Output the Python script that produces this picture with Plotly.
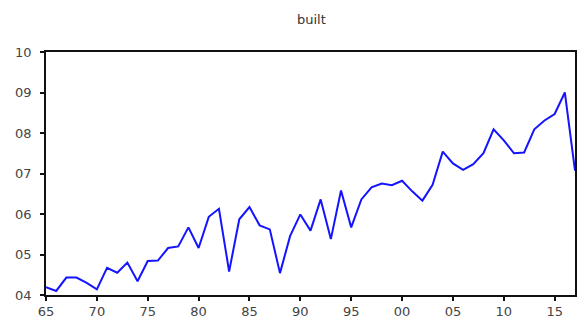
import plotly.graph_objects as go

years = list(range(1965, 2018))
built = [0.0419, 0.0410, 0.0443, 0.0443, 0.0430, 0.0414, 0.0467, 0.0455, 0.0480, 0.0434,
         0.0484, 0.0485, 0.0516, 0.0520, 0.0567, 0.0516, 0.0593, 0.0613, 0.0458, 0.0587,
         0.0617, 0.0572, 0.0562, 0.0454, 0.0546, 0.0599, 0.0559, 0.0636, 0.0538, 0.0658,
         0.0567, 0.0636, 0.0666, 0.0675, 0.0671, 0.0682, 0.0656, 0.0633, 0.0672, 0.0754,
         0.0725, 0.0709, 0.0723, 0.0750, 0.0809, 0.0782, 0.0750, 0.0752, 0.0809, 0.0831,
         0.0847, 0.0900, 0.0707]

x_tickvals = list(range(1965, 2016, 5))
x_ticktext = ["65", "70", "75", "80", "85", "90", "95", "00", "05", "10", "15"]
y_tickvals = [0.04, 0.05, 0.06, 0.07, 0.08, 0.09, 0.10]
y_ticktext = ["04", "05", "06", "07", "08", "09", "10"]

fig = go.Figure()
fig.add_trace(go.Scatter(x=years, y=built, mode="lines",
                         line=dict(color="#1414ff", width=2)))

fig.update_layout(
    width=582, height=324,
    margin=dict(l=46, r=5, t=52, b=26),
    paper_bgcolor="white", plot_bgcolor="white",
    showlegend=False,
    title=dict(text="built", x=0.535, xanchor="center", y=0.94, yanchor="middle",
               font=dict(family="DejaVu Sans", size=13, color="#333")),
    font=dict(family="DejaVu Sans", size=13, color="#444"),
)
fig.update_xaxes(range=[1965, 2017], tickvals=x_tickvals, ticktext=x_ticktext,
                 showgrid=False, zeroline=False, showline=True, linecolor="#111",
                 linewidth=1.6, mirror=True, ticks="outside", ticklen=4,
                 tickcolor="#111", tickwidth=1.6)
fig.update_yaxes(range=[0.04, 0.10], tickvals=y_tickvals, ticktext=y_ticktext,
                 showgrid=False, zeroline=False, showline=True, linecolor="#111",
                 linewidth=1.6, mirror=True, ticks="outside", ticklen=4,
                 tickcolor="#111", tickwidth=1.6, ticklabelstandoff=6)

fig.write_html("out.html", config={"displayModeBar": False},
               post_script="document.body.style.margin='0';document.body.style.overflow='hidden';")
